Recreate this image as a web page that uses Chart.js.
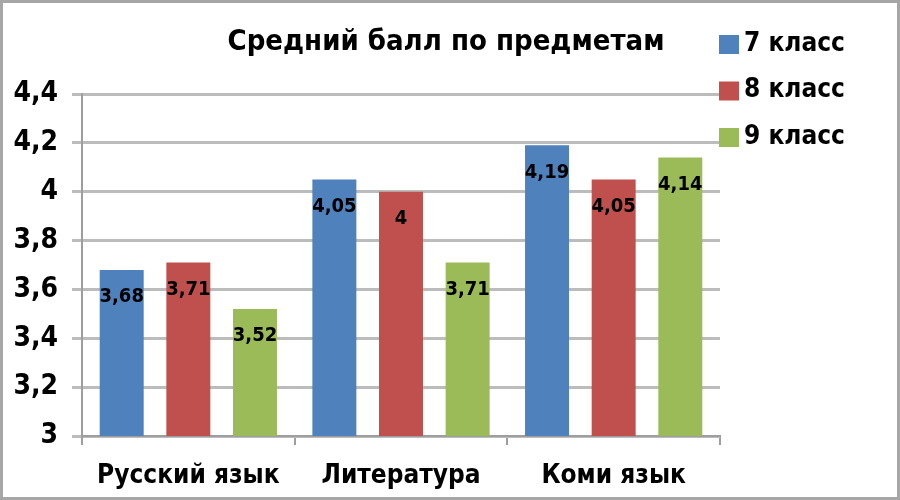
<!DOCTYPE html>
<html>
<head>
<meta charset="utf-8">
<script src="https://cdn.jsdelivr.net/npm/chart.js@4/dist/chart.umd.min.js"></script>
<style>
  html, body { margin: 0; padding: 0; background: #fff; }
  #wrap { width: 900px; height: 500px; }
</style>
</head>
<body>
<div id="wrap"><canvas id="chart" width="900" height="500"></canvas></div>
<script>
var categories = ["Русский язык", "Литература", "Коми язык"];
var seriesNames = ["7 класс", "8 класс", "9 класс"];
var grade7 = [3.68, 4.05, 4.19];
var grade8 = [3.71, 4.0, 4.05];
var grade9 = [3.52, 3.71, 4.14];
var colors = ["#4f81bd", "#c0504d", "#9bbb59"];
var chartTitle = "Средний балл по предметам";

function fmt(v) {
    return String(Number(v.toFixed(2))).replace(".", ",");
}

var narrow = "'Liberation Sans Narrow', 'DejaVu Sans Condensed', Arial, sans-serif";

var decorPlugin = {
    id: "decor",
    afterDatasetsDraw: function (chart) {
        var ctx = chart.ctx;
        ctx.save();
        // value labels inside bars
        ctx.font = "bold 20px " + narrow;
        ctx.fillStyle = "#000";
        ctx.textAlign = "center";
        ctx.textBaseline = "middle";
        chart.data.datasets.forEach(function (ds, i) {
            var meta = chart.getDatasetMeta(i);
            meta.data.forEach(function (bar, j) {
                ctx.fillText(fmt(ds.data[j]), bar.x, bar.y + 27);
            });
        });
        ctx.restore();
    },
    afterDraw: function (chart) {
        var ctx = chart.ctx;
        ctx.save();
        // title
        ctx.font = "bold 29px " + narrow;
        ctx.fillStyle = "#000";
        ctx.textAlign = "center";
        ctx.textBaseline = "middle";
        ctx.fillText(chartTitle, 446, 42);
        // legend
        ctx.font = "bold 26px " + narrow;
        ctx.textAlign = "left";
        chart.data.datasets.forEach(function (ds, i) {
            var y = 44 + i * 46.5;
            ctx.fillStyle = ds.backgroundColor;
            ctx.fillRect(719, y - 9, 20, 19);
            ctx.fillStyle = "#000";
            ctx.fillText(ds.label, 744, y);
        });
        // frame
        ctx.strokeStyle = "#a6a6a6";
        ctx.lineWidth = 3;
        ctx.strokeRect(1.5, 1.5, 897, 497);
        ctx.restore();
    }
};

new Chart(document.getElementById("chart"), {
    type: "bar",
    data: {
        labels: categories,
        datasets: [
            { label: seriesNames[0], data: grade7, backgroundColor: colors[0] },
            { label: seriesNames[1], data: grade8, backgroundColor: colors[1] },
            { label: seriesNames[2], data: grade9, backgroundColor: colors[2] }
        ]
    },
    options: {
        responsive: false,
        animation: false,
        layout: { padding: { left: 0, top: 94, right: 180, bottom: 0 } },
        datasets: {
            bar: { categoryPercentage: 0.94, barPercentage: 0.66 }
        },
        plugins: {
            legend: { display: false },
            title: { display: false },
            tooltip: { enabled: false }
        },
        scales: {
            x: {
                grid: {
                    display: true,
                    drawOnChartArea: false,
                    drawTicks: true,
                    tickLength: 9,
                    color: "#9e9e9e",
                    lineWidth: 2,
                    offset: true
                },
                border: { color: "#9e9e9e", width: 2 },
                ticks: {
                    color: "#000",
                    font: { family: narrow, size: 26, weight: "bold" },
                    padding: 16
                },
                afterFit: function (scale) { scale.height = 64; }
            },
            y: {
                min: 3,
                max: 4.4,
                grid: {
                    color: "#bcbcbc",
                    lineWidth: 3,
                    drawTicks: true,
                    tickLength: 10
                },
                border: { color: "#9e9e9e", width: 2 },
                ticks: {
                    stepSize: 0.2,
                    color: "#000",
                    padding: 14,
                    font: { family: narrow, size: 28, weight: "bold" },
                    callback: function (v) { return fmt(v); }
                },
                afterFit: function (scale) { scale.width = 82; }
            }
        }
    },
    plugins: [decorPlugin]
});
</script>
</body>
</html>
